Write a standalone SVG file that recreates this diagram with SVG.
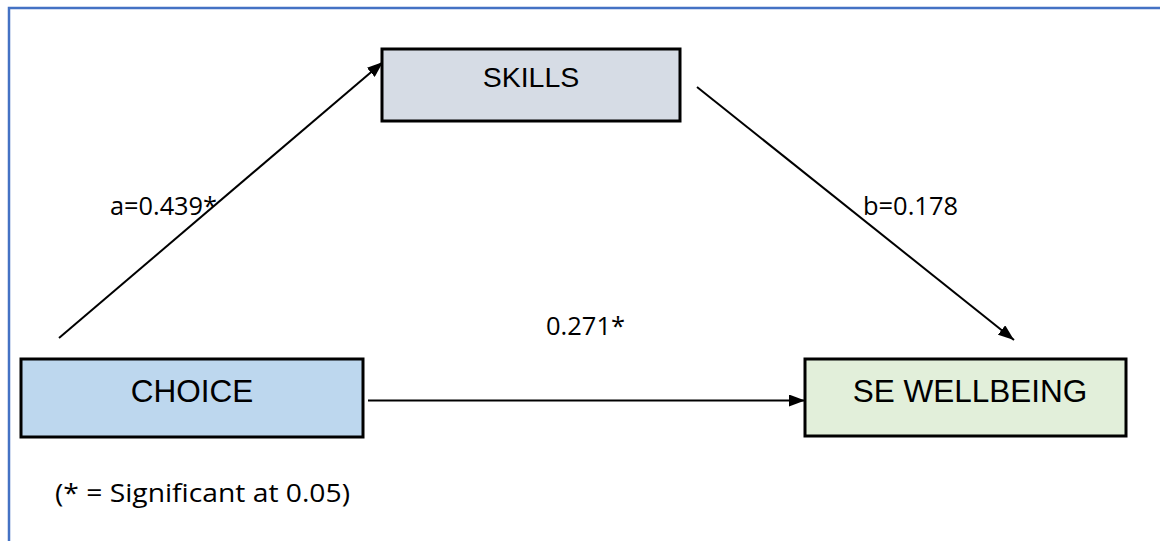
<svg xmlns="http://www.w3.org/2000/svg" width="1160" height="541" viewBox="0 0 1160 541">
<style>
.box{stroke:#000;stroke-width:3}
.lbl{font-family:"Liberation Sans",Arial,sans-serif;fill:#000}
.num{font-family:"Open Sans","Noto Sans",sans-serif;fill:#000;font-size:25px}
.con{stroke:#000;stroke-width:2;fill:none}
</style>
<defs>
<marker id="ah" viewBox="0 0 16 12" refX="16" refY="6" markerWidth="16" markerHeight="12" markerUnits="userSpaceOnUse" orient="auto">
<path d="M0,0 L16,6 L0,12 Z" fill="#000"/>
</marker>
</defs>
<rect width="1160" height="541" fill="#fff"/>
<path d="M9,541 V8 H1160" fill="none" stroke="#4472C4" stroke-width="2.5"/>
<g id="connectors">
<line class="con" x1="59" y1="338" x2="383" y2="62" marker-end="url(#ah)"/>
<line class="con" x1="697" y1="87" x2="1014" y2="340" marker-end="url(#ah)"/>
<line class="con" x1="368" y1="400.5" x2="805" y2="400.5" marker-end="url(#ah)"/>
</g>
<g id="skills">
<rect class="box" x="382" y="49" width="298" height="72" fill="#D6DCE5"/>
<text class="lbl" x="531" y="87" font-size="28.5" text-anchor="middle">SKILLS</text>
</g>
<g id="choice">
<rect class="box" x="21" y="359" width="342" height="78" fill="#BDD7EE"/>
<text class="lbl" x="192" y="402" font-size="31.5" text-anchor="middle">CHOICE</text>
</g>
<g id="wellbeing">
<rect class="box" x="805" y="359" width="321" height="77" fill="#E2EFDA"/>
<text class="lbl" x="970" y="402" font-size="31.5" text-anchor="middle">SE WELLBEING</text>
</g>
<g id="labels">
<text class="num" x="110" y="215" textLength="107" lengthAdjust="spacingAndGlyphs">a=0.439*</text>
<text class="num" x="863" y="215" textLength="95" lengthAdjust="spacingAndGlyphs">b=0.178</text>
<text class="num" x="546" y="335" textLength="79" lengthAdjust="spacingAndGlyphs">0.271*</text>
<text class="num" x="55" y="502" font-size="26" textLength="295" lengthAdjust="spacingAndGlyphs">(* = Significant at 0.05)</text>
</g>
</svg>
